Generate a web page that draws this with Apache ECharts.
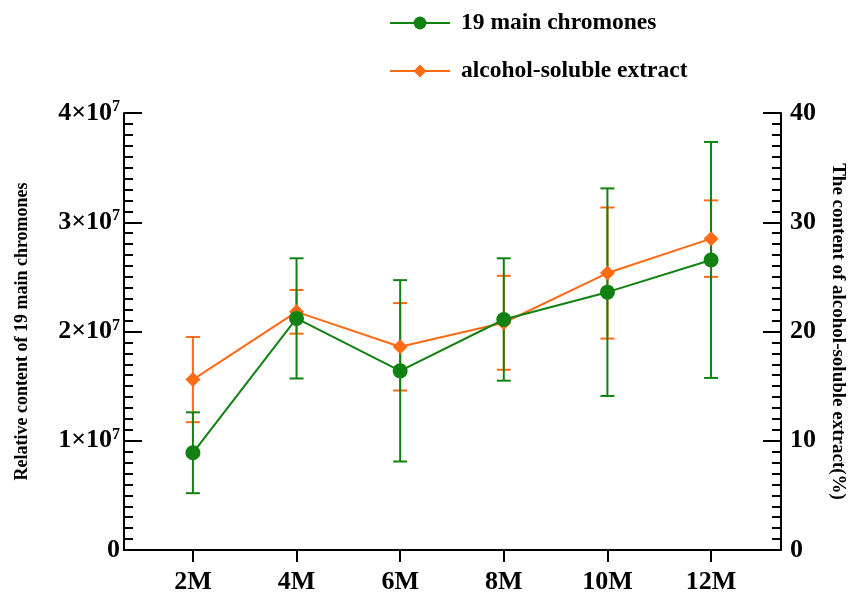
<!DOCTYPE html>
<html>
<head>
<meta charset="utf-8">
<script src="https://cdn.jsdelivr.net/npm/echarts@6/dist/echarts.min.js"></script>
<style>
  html, body { margin: 0; padding: 0; background: #fff; }
  #chart { width: 848px; height: 600px; }
</style>
</head>
<body>
<div id="chart"></div>
<script>
// sampling months
const categories = ['2M', '4M', '6M', '8M', '10M', '12M']
// 19 main chromones (left axis) mean and error
const chromoneMean = [8.9e6, 2.12e7, 1.64e7, 2.11e7, 2.36e7, 2.655e7]
const chromoneErr = [3.7e6, 5.5e6, 8.3e6, 5.6e6, 9.5e6, 1.08e7]
// alcohol-soluble extract (right axis, %) mean and error
const extractMean = [15.6, 21.8, 18.6, 20.8, 25.35, 28.5]
const extractErr = [3.9, 2.0, 4.0, 4.3, 6.0, 3.5]

const leftTicks = ['0', '1', '2', '3', '4']
const rightTicks = ['0', '10', '20', '30', '40']

const GREEN = '#118211'
const ORANGE = '#ff6a14'
const FONT = '"Liberation Serif", "Times New Roman", serif'

const months = categories.map(c => parseInt(c))

function errorSeries(mean, err, color, axis) {
  return {
    type: 'custom',
    yAxisIndex: axis,
    silent: true,
    z: 3,
    data: months.map((m, i) => [m, mean[i] - err[i], mean[i] + err[i]]),
    renderItem(params, api) {
      const lo = api.coord([api.value(0), api.value(1)])
      const hi = api.coord([api.value(0), api.value(2)])
      const w = 7
      const style = { stroke: color, lineWidth: 2 }
      return {
        type: 'group',
        children: [
          { type: 'line', shape: { x1: lo[0], y1: lo[1], x2: hi[0], y2: hi[1] }, style },
          { type: 'line', shape: { x1: lo[0] - w, y1: lo[1], x2: lo[0] + w, y2: lo[1] }, style },
          { type: 'line', shape: { x1: hi[0] - w, y1: hi[1], x2: hi[0] + w, y2: hi[1] }, style }
        ]
      }
    }
  }
}

const chart = echarts.init(document.getElementById('chart'))
const axisLine = { show: true, lineStyle: { color: '#000', width: 2 } }

chart.setOption({
  backgroundColor: '#fff',
  animation: false,
  textStyle: { fontFamily: FONT },
  legend: {
    orient: 'vertical',
    left: 384,
    top: 6,
    itemWidth: 60,
    itemHeight: 16,
    itemGap: 24,
    data: ['19 main chromones', 'alcohol-soluble extract'],
    textStyle: {
      fontFamily: FONT,
      fontSize: 23.5,
      fontWeight: 'bold',
      color: '#000',
      padding: [0, 0, 0, 6]
    }
  },
  grid: { left: 124, right: 67, top: 113, bottom: 50, outerBoundsMode: 'none' },
  xAxis: {
    type: 'value',
    min: 0.67,
    max: 13.35,
    splitLine: { show: false },
    axisLine: axisLine,
    axisTick: {
      show: true,
      customValues: months,
      length: 12,
      lineStyle: { color: '#000', width: 2 }
    },
    axisLabel: {
      customValues: months,
      margin: 19,
      formatter: v => categories[months.indexOf(v)] || '',
      fontFamily: FONT,
      fontSize: 26,
      fontWeight: 'bold',
      color: '#000'
    }
  },
  yAxis: [
    {
      type: 'value',
      position: 'left',
      min: 0,
      max: 4e7,
      interval: 1e7,
      name: 'Relative content of 19 main chromones',
      nameLocation: 'middle',
      nameGap: 93,
      nameTextStyle: { fontFamily: FONT, fontSize: 18, fontWeight: 'bold', color: '#000' },
      splitLine: { show: false },
      axisLine: axisLine,
      axisTick: { show: true, inside: true, length: 18, lineStyle: { color: '#000', width: 2 } },
      minorTick: { show: true, splitNumber: 10, length: 9, lineStyle: { color: '#000', width: 2 } },
      axisLabel: {
        margin: 4,
        formatter: v => {
          const t = leftTicks[Math.round(v / 1e7)]
          return t === '0' ? '{a|0}' : '{a|' + t + '×10}{s|7}'
        },
        rich: {
          a: { fontFamily: FONT, fontSize: 26, fontWeight: 'bold', color: '#000', lineHeight: 28 },
          s: { fontFamily: FONT, fontSize: 16, fontWeight: 'bold', color: '#000', verticalAlign: 'top', lineHeight: 28 }
        }
      }
    },
    {
      type: 'value',
      position: 'right',
      min: 0,
      max: 40,
      interval: 10,
      name: 'The content of alcohol-soluble extract(%)',
      nameLocation: 'middle',
      nameRotate: -90,
      nameGap: 47,
      nameTextStyle: { fontFamily: FONT, fontSize: 19, fontWeight: 'bold', color: '#000' },
      splitLine: { show: false },
      axisLine: axisLine,
      axisTick: { show: true, inside: true, length: 18, lineStyle: { color: '#000', width: 2 } },
      minorTick: { show: true, splitNumber: 10, length: 9, lineStyle: { color: '#000', width: 2 } },
      axisLabel: {
        margin: 9,
        formatter: v => rightTicks[Math.round(v / 10)],
        fontFamily: FONT,
        fontSize: 26,
        fontWeight: 'bold',
        color: '#000'
      }
    }
  ],
  series: [
    errorSeries(extractMean, extractErr, ORANGE, 1),
    {
      name: 'alcohol-soluble extract',
      type: 'line',
      yAxisIndex: 1,
      z: 4,
      data: months.map((m, i) => [m, extractMean[i]]),
      symbol: 'diamond',
      symbolSize: 15,
      itemStyle: { color: ORANGE },
      lineStyle: { color: ORANGE, width: 2 }
    },
    errorSeries(chromoneMean, chromoneErr, GREEN, 0),
    {
      name: '19 main chromones',
      type: 'line',
      yAxisIndex: 0,
      z: 5,
      data: months.map((m, i) => [m, chromoneMean[i]]),
      symbol: 'circle',
      symbolSize: 15,
      itemStyle: { color: GREEN },
      lineStyle: { color: GREEN, width: 2 }
    }
  ]
})
</script>
</body>
</html>
